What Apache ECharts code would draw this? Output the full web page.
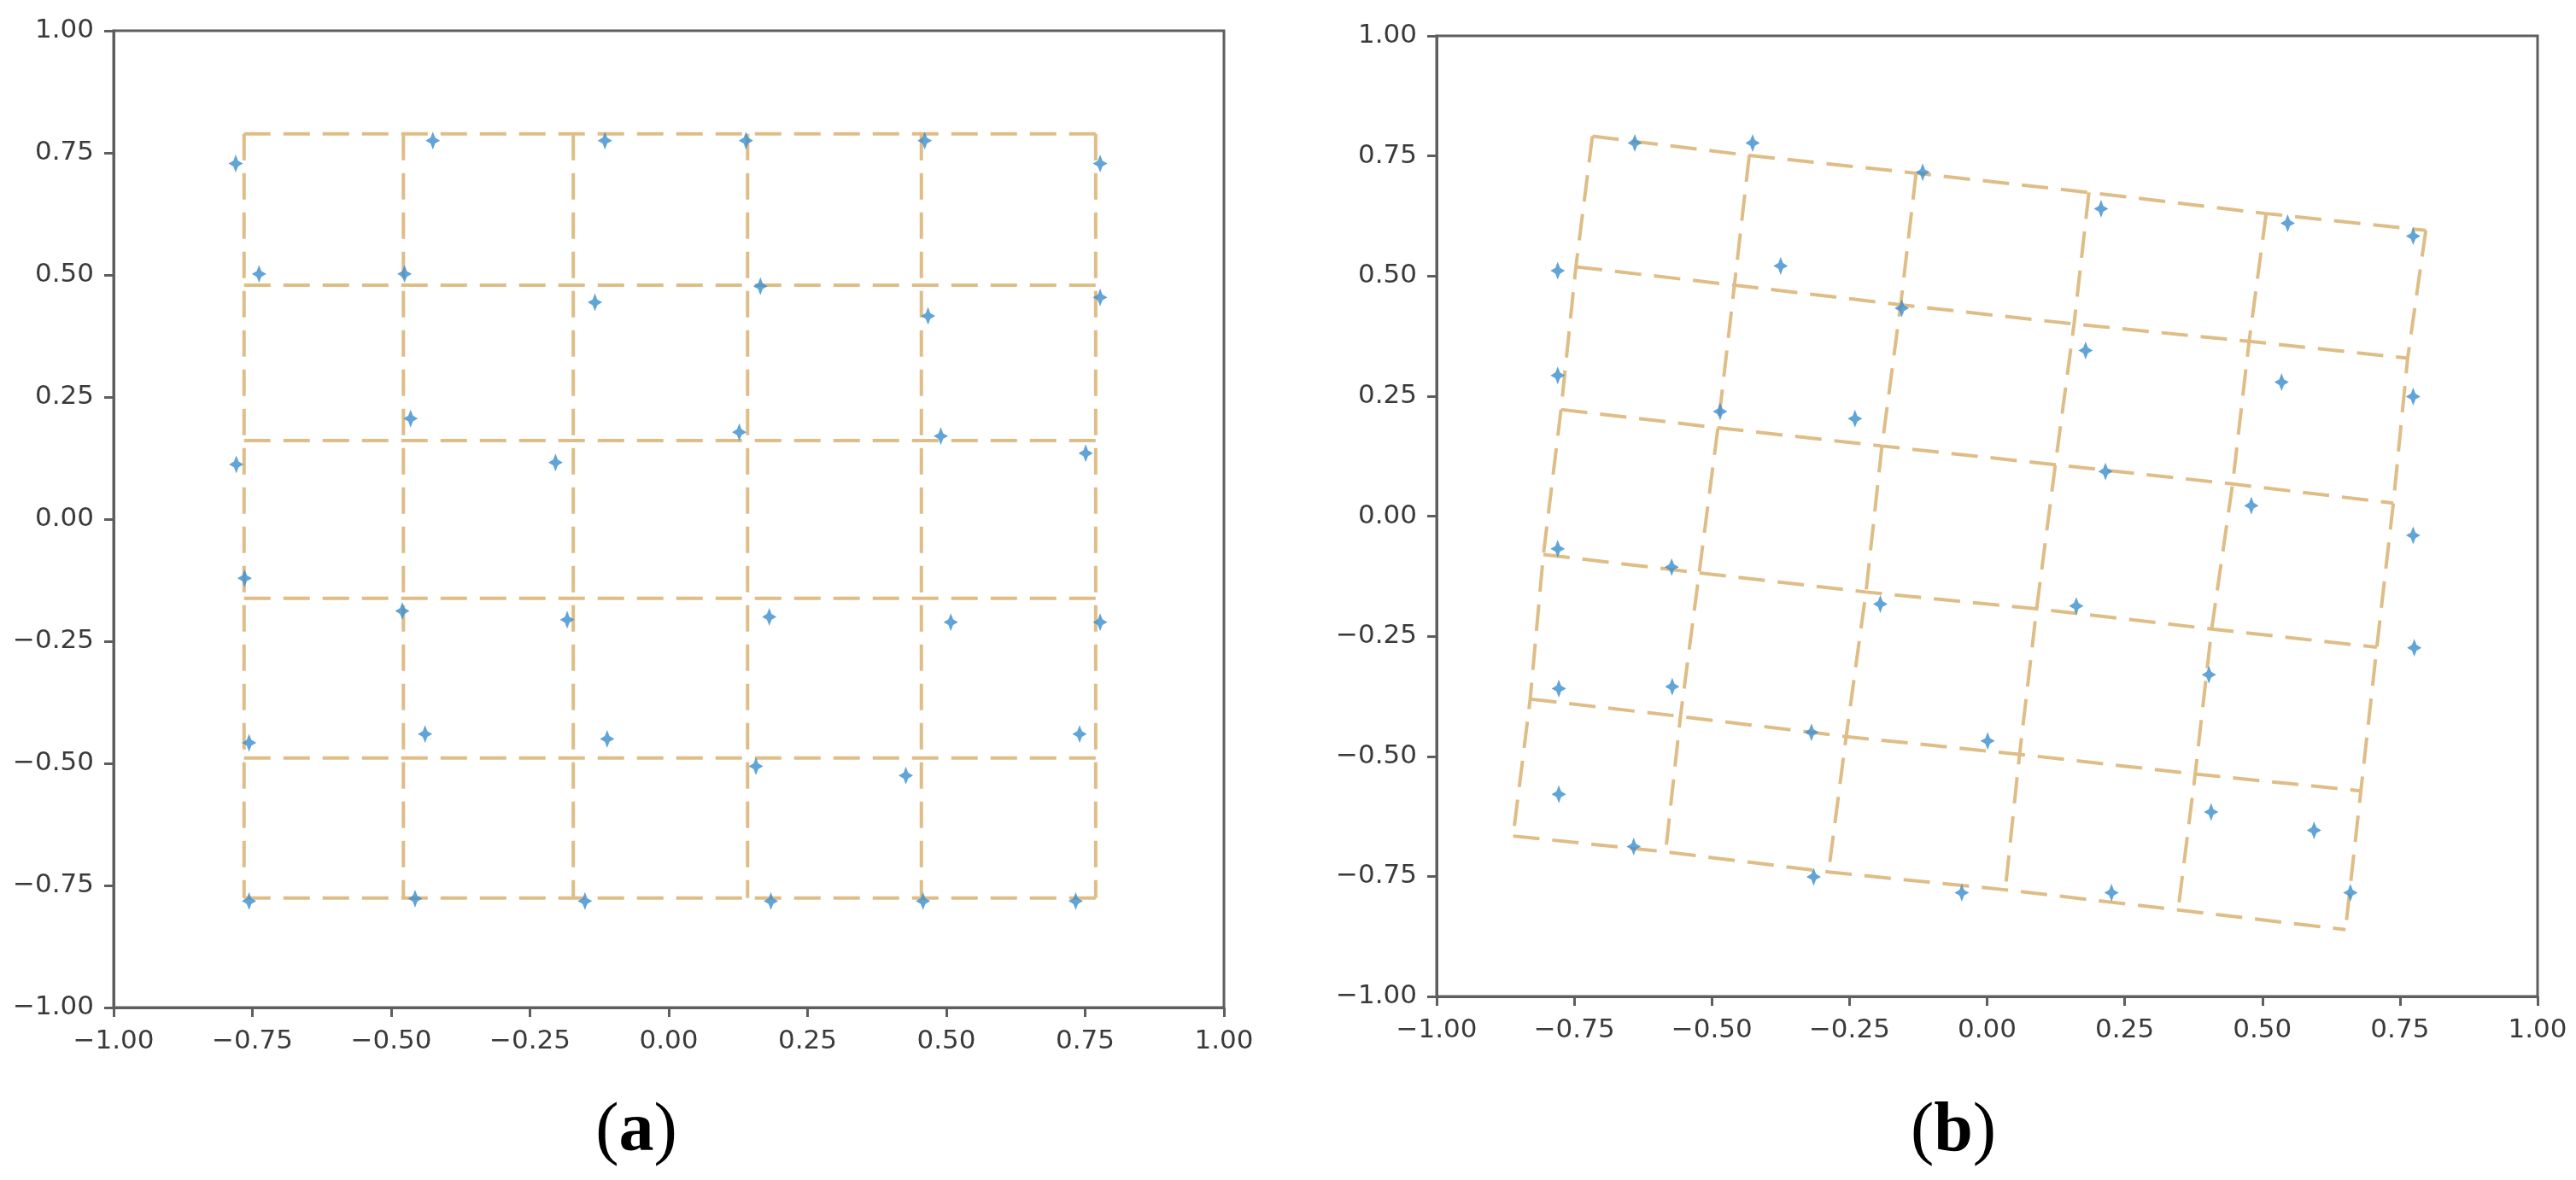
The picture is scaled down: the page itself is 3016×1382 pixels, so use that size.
<!DOCTYPE html>
<html>
<head>
<meta charset="utf-8">
<script src="https://cdn.jsdelivr.net/npm/echarts@6/dist/echarts.min.js"></script>
<style>html,body{margin:0;padding:0;background:#fff;}#chart{width:3016px;height:1382px;}</style>
</head>
<body>
<div id="chart"></div>
<script>
// ---- data ----
const tickValues = [-1, -0.75, -0.5, -0.25, 0, 0.25, 0.5, 0.75, 1];
const tickLabels = ['\u22121.00','\u22120.75','\u22120.50','\u22120.25','0.00','0.25','0.50','0.75','1.00'];

// panel (a): regular grid lines
const gridXa = [-0.765, -0.478, -0.172, 0.142, 0.455, 0.769];
const gridYa = [0.789, 0.479, 0.161, -0.162, -0.489, -0.776];

// panel (a): points
const pointsA = [
  [-0.780,0.728],[-0.425,0.775],[-0.115,0.775],[0.139,0.775],[0.461,0.775],[0.777,0.728],
  [-0.738,0.502],[-0.476,0.502],[-0.133,0.444],[0.165,0.477],[0.467,0.416],[0.777,0.454],
  [-0.779,0.112],[-0.465,0.206],[-0.204,0.116],[0.127,0.178],[0.490,0.170],[0.751,0.135],
  [-0.764,-0.121],[-0.480,-0.188],[-0.183,-0.206],[0.181,-0.200],[0.508,-0.211],[0.777,-0.211],
  [-0.756,-0.458],[-0.439,-0.440],[-0.111,-0.450],[0.157,-0.506],[0.427,-0.525],[0.740,-0.440],
  [-0.756,-0.782],[-0.457,-0.777],[-0.151,-0.782],[0.184,-0.782],[0.458,-0.782],[0.733,-0.782]
];

// panel (b): rotated grid nodes (rows top->bottom, columns left->right)
const nodesB = [
  [[-0.717,0.791],[-0.432,0.751],[-0.129,0.714],[0.185,0.674],[0.507,0.630],[0.797,0.595]],
  [[-0.747,0.519],[-0.459,0.481],[-0.157,0.440],[0.158,0.400],[0.476,0.364],[0.764,0.329]],
  [[-0.774,0.222],[-0.489,0.184],[-0.191,0.146],[0.124,0.107],[0.446,0.067],[0.738,0.027]],
  [[-0.806,-0.080],[-0.523,-0.118],[-0.220,-0.158],[0.090,-0.193],[0.408,-0.235],[0.708,-0.273]],
  [[-0.830,-0.381],[-0.557,-0.417],[-0.256,-0.459],[0.059,-0.496],[0.378,-0.537],[0.679,-0.572]],
  [[-0.861,-0.666],[-0.584,-0.699],[-0.288,-0.741],[0.033,-0.778],[0.347,-0.820],[0.651,-0.861]]
];

// panel (b): points
const pointsB = [
  [-0.640,0.777],[-0.426,0.777],[-0.117,0.716],[0.207,0.640],[0.546,0.610],[0.774,0.583],
  [-0.780,0.511],[-0.375,0.521],[-0.155,0.433],[0.179,0.345],[0.535,0.279],[0.774,0.249],
  [-0.780,0.293],[-0.485,0.218],[-0.240,0.203],[0.215,0.093],[0.480,0.022],[0.774,-0.040],
  [-0.780,-0.068],[-0.573,-0.106],[-0.194,-0.183],[0.162,-0.187],[0.403,-0.330],[0.776,-0.274],
  [-0.778,-0.359],[-0.572,-0.355],[-0.319,-0.450],[0.001,-0.468],[0.407,-0.616],[0.594,-0.654],
  [-0.778,-0.579],[-0.642,-0.688],[-0.315,-0.751],[-0.046,-0.784],[0.226,-0.784],[0.660,-0.784]
];

const panelLabels = ['a', 'b'];

// ---- styles ----
const spine = '#5e5e5e';
const lineColor = '#dfbd86';
const markerColor = '#3a8dcd';
const starPath = 'path://M0,-10 L3.2,-3.2 L10,0 L3.2,3.2 L0,10 L-3.2,3.2 L-10,0 L-3.2,-3.2 Z';

function fmt(v) {
  const i = tickValues.findIndex(t => Math.abs(t - v) < 1e-9);
  return i >= 0 ? tickLabels[i] : '';
}
function axis(gridIndex, isY) {
  return {
    type: 'value', gridIndex, min: -1, max: 1, interval: 0.25,
    axisLine: { show: true, onZero: false, lineStyle: { color: spine, width: 3 } },
    axisTick: { show: true, length: 11, lineStyle: { color: spine, width: 3 } },
    splitLine: { show: false },
    axisLabel: {
      formatter: fmt, color: '#3a3a3a', fontFamily: 'DejaVu Sans', fontSize: 31,
      margin: isY ? 23 : 24, showMinLabel: true, showMaxLabel: true
    }
  };
}
function dashed(xi, data) {
  return {
    type: 'line', xAxisIndex: xi, yAxisIndex: xi, data, symbol: 'none', silent: true, z: 2,
    lineStyle: { color: lineColor, width: 4, type: [31, 15] }, animation: false
  };
}

const series = [];
gridYa.forEach(y => series.push(dashed(0, [[gridXa[0], y], [gridXa[gridXa.length - 1], y]])));
gridXa.forEach(x => series.push(dashed(0, [[x, gridYa[0]], [x, gridYa[gridYa.length - 1]]])));
nodesB.forEach(row => series.push(dashed(1, row)));
for (let c = 0; c < nodesB[0].length; c++) series.push(dashed(1, nodesB.map(r => r[c])));

[pointsA, pointsB].forEach((pts, i) => series.push({
  type: 'scatter', xAxisIndex: i, yAxisIndex: i, data: pts, symbol: starPath,
  symbolSize: [17, 21], itemStyle: { color: markerColor }, z: 5, animation: false
}));

const labelCenters = [[745, 1326], [2287, 1326]];
const graphic = panelLabels.map((t, i) => ({
  type: 'text', x: labelCenters[i][0], y: labelCenters[i][1], z: 10,
  style: {
    text: '{p|(}{b|' + t + '}{p|)}', textAlign: 'center', textVerticalAlign: 'middle',
    rich: {
      p: { fontFamily: 'Liberation Serif', fontSize: 82, fill: '#000', fontWeight: 'normal' },
      b: { fontFamily: 'Liberation Serif', fontSize: 82, fill: '#000', fontWeight: 'bold' }
    }
  }
}));

const chart = echarts.init(document.getElementById('chart'), null, { renderer: 'canvas' });
chart.setOption({
  backgroundColor: '#ffffff',
  animation: false,
  grid: [
    { left: 133, top: 36, width: 1300, height: 1144, show: true, borderColor: spine, borderWidth: 3, backgroundColor: '#fff' },
    { left: 1682, top: 42, width: 1289, height: 1125, show: true, borderColor: spine, borderWidth: 3, backgroundColor: '#fff' }
  ],
  xAxis: [axis(0, false), axis(1, false)],
  yAxis: [axis(0, true), axis(1, true)],
  series,
  graphic
});
</script>
</body>
</html>
